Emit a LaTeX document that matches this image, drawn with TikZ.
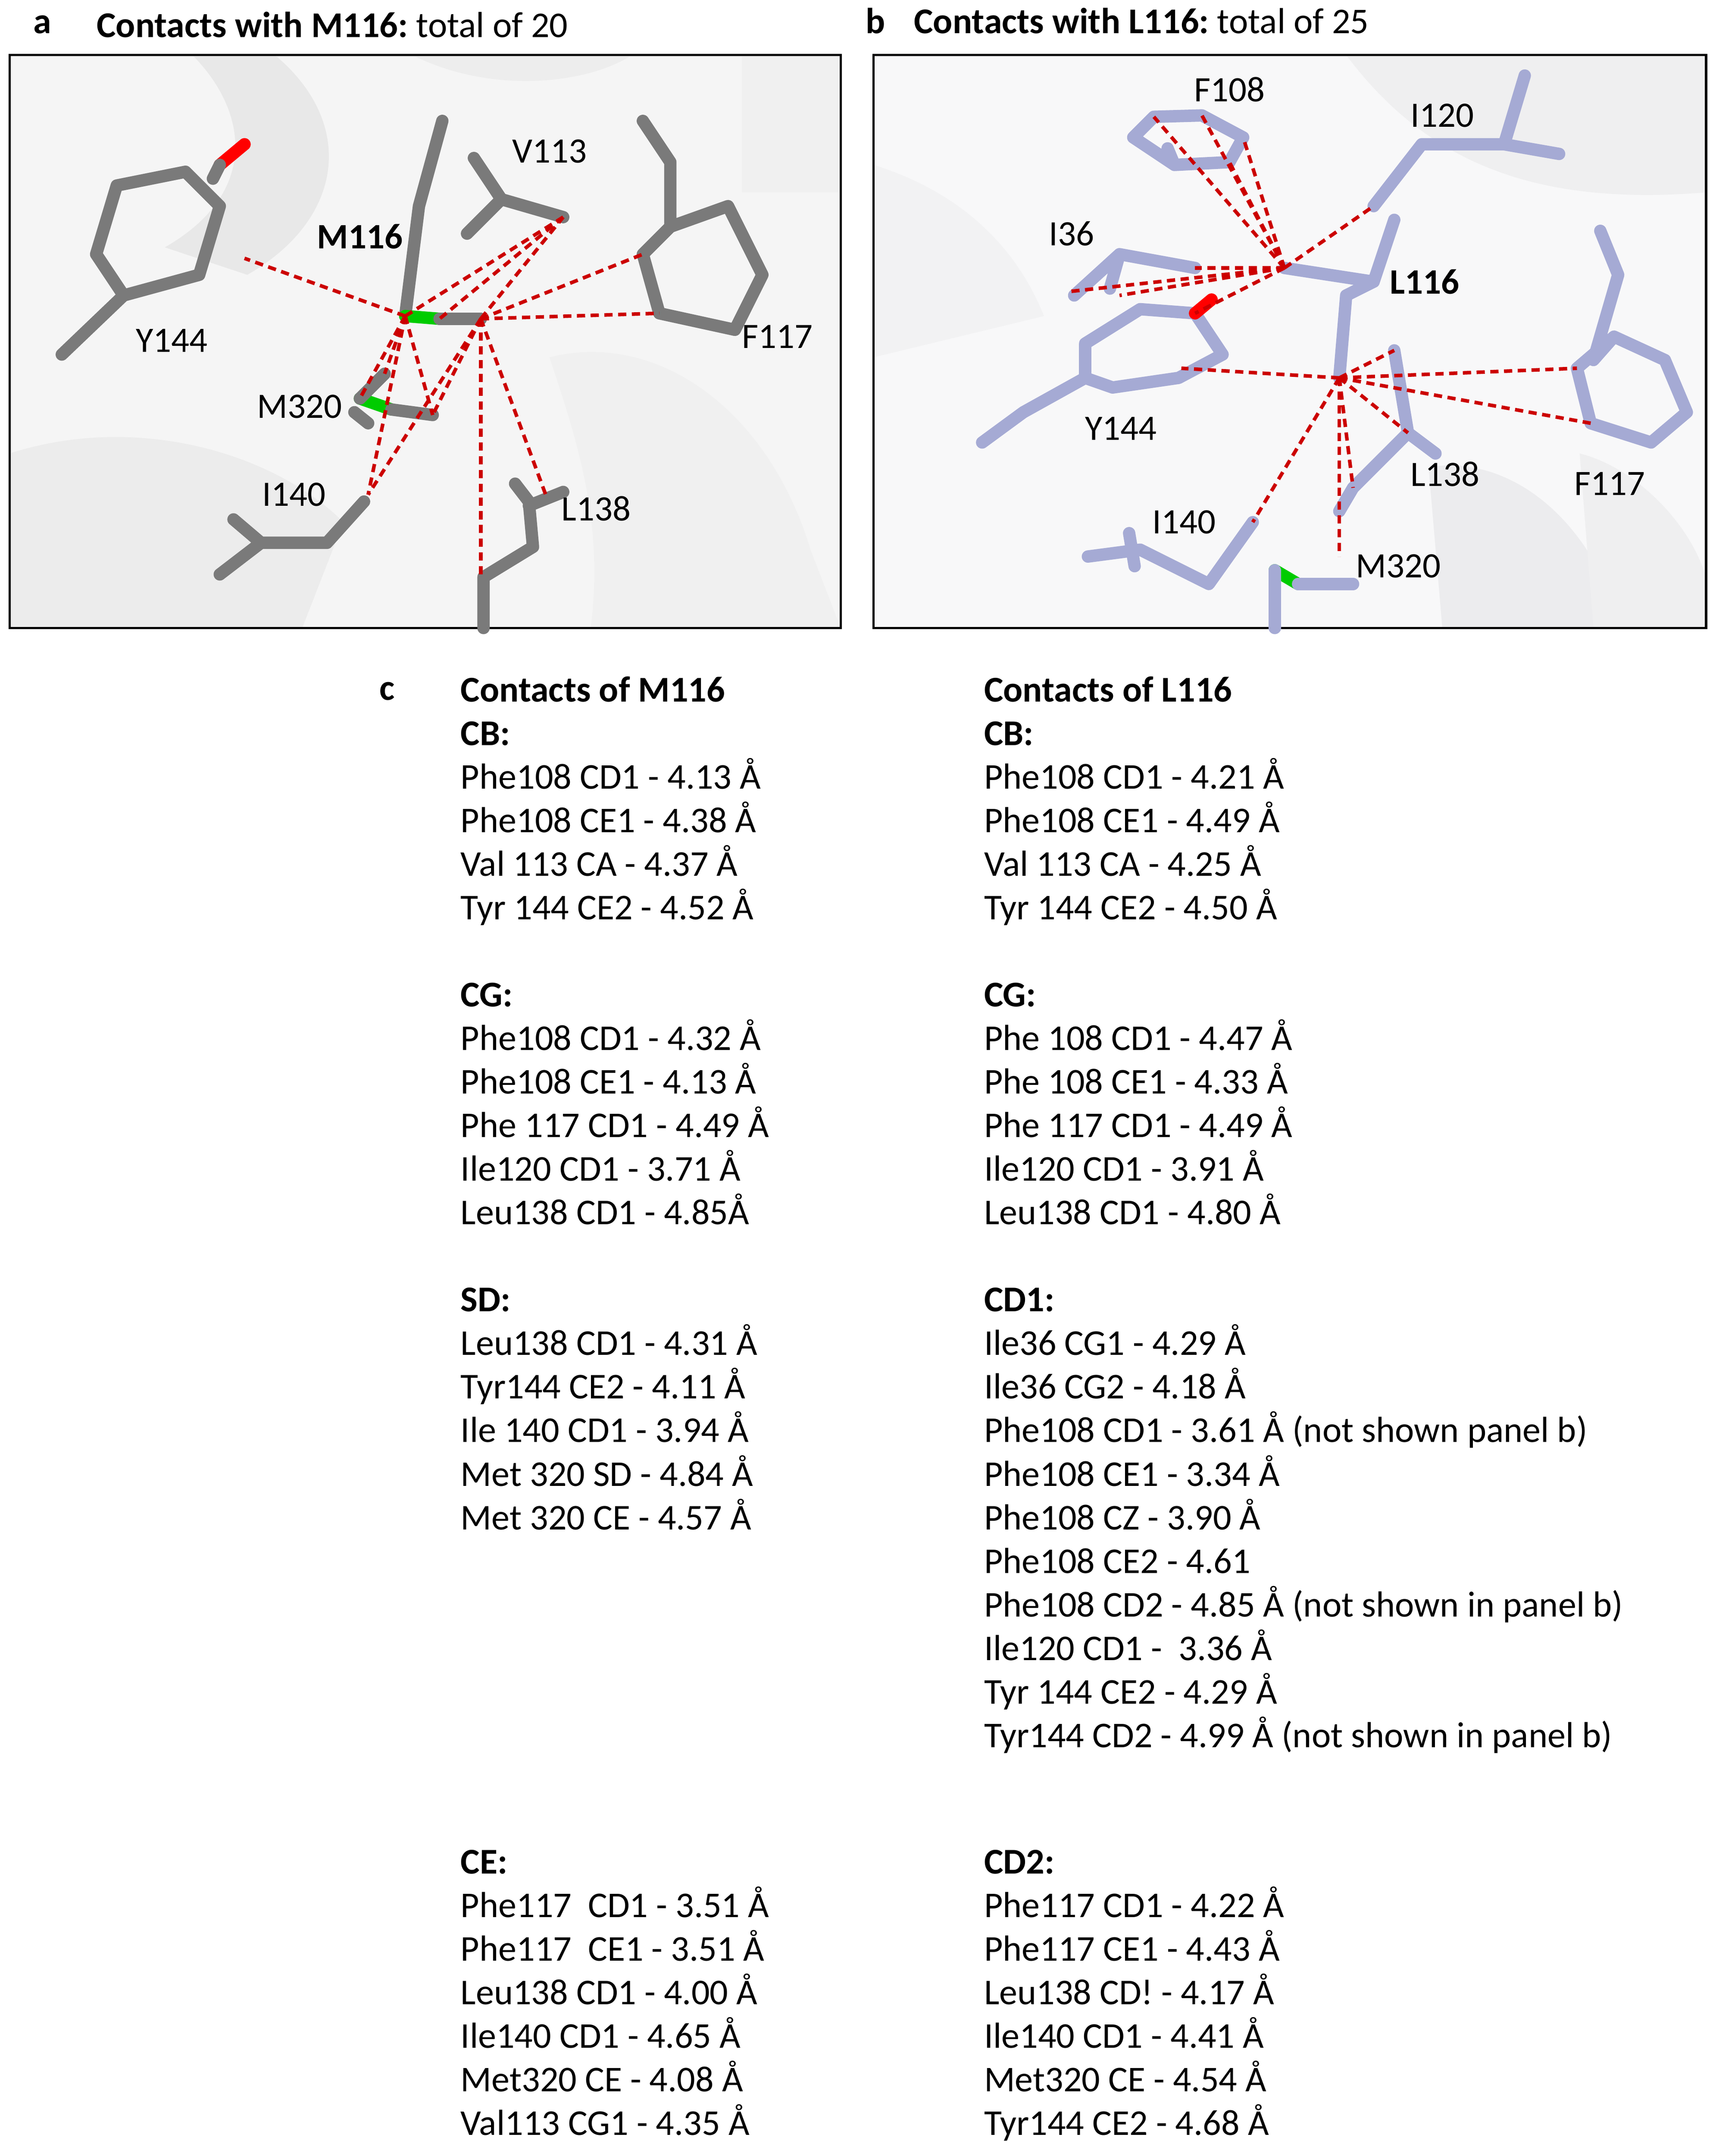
\documentclass[tikz,border=0pt]{standalone}
\usepackage{fontspec}
\setmainfont{Carlito}
\begin{document}
\begin{tikzpicture}[x=0.5pt,y=-0.5pt,
 stickA/.style={line width=4.5pt,line cap=round,line join=round,draw={rgb,255:red,122;green,122;blue,122}},
 stickB/.style={line width=4.5pt,line cap=round,line join=round,draw={rgb,255:red,165;green,170;blue,212}},
 contact/.style={red!80!black,dashed,line width=1.3pt,dash pattern=on 3pt off 2pt},
 lbl/.style={font=\fontsize{13}{15}\selectfont,inner sep=0},
 blk/.style={font=\fontsize{13.2}{15.85}\selectfont,align=left,anchor=north west,inner sep=0},
 hdr/.style={font=\fontsize{13.2}{15}\selectfont,anchor=west,inner sep=0}]
\useasboundingbox (0,0) rectangle (1249,1569);
% headers
\node[hdr,font=\fontsize{13.2}{15}\bfseries] (ha) at (24,18) {a};
\node[hdr] (ta) at (70,18) {\textbf{Contacts with M116:}\ total of 20};
\node[hdr,font=\fontsize{13.2}{15}\bfseries] (hb) at (630,15) {b};
\node[hdr] (tb) at (665,15) {\textbf{Contacts with L116:}\ total of 25};
% panel a
\begin{scope}
\clip (7,40) rectangle (612,457);
\fill[gray!8] (7,40) rectangle (612,457);
\fill[gray!18] (200,40) .. controls (260,90) and (250,160) .. (180,200) -- (120,180) .. controls (190,140) and (180,80) .. (140,40) -- cycle;
\fill[gray!15] (7,330) .. controls (100,300) and (200,330) .. (250,380) -- (220,457) -- (7,457) -- cycle;
\fill[gray!12] (400,260) .. controls (480,240) and (560,300) .. (590,400) -- (612,457) -- (430,457) .. controls (440,380) and (420,320) .. (400,260);
\fill[gray!12] (540,40) rectangle (612,140);
\fill[gray!14] (300,40) .. controls (360,70) and (430,60) .. (460,40) -- cycle;
\end{scope}
\draw[line width=0.8pt] (7,40) rectangle (612,457);
% sticks a
\draw[stickA] (45,258) -- (90,215) -- (70,185) -- (85,135) -- (135,125) -- (160,150) -- (145,200) -- (90,215);
\draw[stickA,red] (160,120) -- (178,105);
\draw[stickA] (155,130) -- (160,120);
\draw[stickA] (322,88) -- (305,150) -- (295,230);
\draw[stickA,green!80!black] (295,230) -- (320,232);
\draw[stickA] (320,232) -- (350,232);
\draw[stickA,green!80!black] (262,290) -- (285,298);
\draw[stickA] (285,298) -- (315,302) (262,290) -- (280,272) (258,300)--(268,308);
\draw[stickA] (345,115) -- (365,145) -- (410,158) (365,145) -- (340,170);
\draw[stickA] (468,88) -- (488,118) -- (488,165) -- (530,150) -- (555,200) -- (535,240) -- (480,228) -- (468,185) -- (488,165);
\draw[stickA] (160,418) -- (190,395) -- (238,395) -- (265,365) (170,378) -- (190,395);
\draw[stickA] (352,457) -- (352,420) -- (388,398) -- (385,365) -- (375,352) (385,368) -- (410,358);
% contacts a
\foreach \p in {(178,188),(410,158),(262,290),(268,360),(280,272),(315,302)} \draw[contact] (295,230) -- \p;
\foreach \p in {(410,158),(468,185),(480,228),(398,362),(350,420),(268,360),(315,302)} \draw[contact] (350,232) -- \p;
\draw[contact] (410,158) -- (320,232);
\node[lbl] (a1) at (125,248) {Y144};
\node[lbl,font=\fontsize{13}{15}\bfseries] (a2) at (262,172) {M116};
\node[lbl] (a3) at (400,110) {V113};
\node[lbl] (a4) at (566,245) {F117};
\node[lbl] (a5) at (218,296) {M320};
\node[lbl] (a6) at (214,360) {I140};
\node[lbl] (a7) at (434,370) {L138};
% panel b
\begin{scope}
\clip (636,40) rectangle (1242,457);
\fill[blue!3!gray!5] (636,40) rectangle (1242,457);
\fill[blue!5!gray!12] (980,40) .. controls (1040,120) and (1120,150) .. (1242,140) -- (1242,40) -- cycle;
\fill[blue!5!gray!14] (1040,340) .. controls (1100,330) and (1160,380) .. (1180,457) -- (1050,457) -- cycle;
\fill[blue!5!gray!10] (636,120) .. controls (700,140) and (740,180) .. (760,230) -- (636,260) -- cycle;
\fill[blue!5!gray!12] (1150,330) .. controls (1190,340) and (1230,380) .. (1242,420) -- (1242,457) -- (1160,457) -- cycle;
\end{scope}
\draw[line width=0.8pt] (636,40) rectangle (1242,457);
% sticks b
\draw[stickB] (840,85) -- (875,84) -- (905,100) -- (895,118) -- (855,120) -- (825,100) -- cycle (855,120) -- (850,108);
\draw[stickB] (1000,150) -- (1035,105) -- (1095,105) -- (1110,55) (1095,105) -- (1135,112);
\draw[stickB] (782,215) -- (815,185) -- (870,195) (815,185) -- (808,210);
\draw[stickB] (1015,160) -- (1000,205) -- (980,215) -- (975,275) (1000,205) -- (935,195);
\draw[stickB] (715,322) -- (745,300) -- (790,275) -- (790,250) -- (830,225) -- (870,228) -- (890,258) -- (858,275) -- (810,282) -- (790,275);
\draw[stickB,red] (870,228) -- (882,218);
\draw[stickB] (1015,255) -- (1025,315) -- (985,355) -- (975,372) (1025,315) -- (1045,330);
\draw[stickB] (1165,168) -- (1178,200) -- (1160,262) -- (1175,245) -- (1212,262) -- (1228,300) -- (1202,322) -- (1158,308) -- (1148,268) -- (1175,245);
\draw[stickB] (792,405) -- (830,400) -- (880,425) -- (912,380) (822,388) -- (826,412);
\draw[stickB,green!80!black] (928,415) -- (945,425);
\draw[stickB] (928,415) -- (928,457) (945,425) -- (985,425);
% contacts b
\foreach \p in {(840,85),(875,84),(905,100),(895,118),(1000,150),(870,195),(815,215),(870,228),(780,212)} \draw[contact] (935,195) -- \p;
\foreach \p in {(1148,268),(1158,308),(912,380),(975,405),(1025,315),(1015,255),(860,268),(985,355)} \draw[contact] (975,275) -- \p;
\node[lbl] (b1) at (895,65) {F108};
\node[lbl] (b2) at (1050,84) {I120};
\node[lbl] (b3) at (780,170) {I36};
\node[lbl,font=\fontsize{13}{15}\bfseries] (b4) at (1037,205) {L116};
\node[lbl] (b5) at (816,312) {Y144};
\node[lbl] (b6) at (1052,345) {L138};
\node[lbl] (b7) at (1172,352) {F117};
\node[lbl] (b8) at (862,380) {I140};
\node[lbl] (b9) at (1018,412) {M320};
% panel c
\node[hdr,font=\fontsize{13.2}{15}\bfseries] (hc) at (276,503) {c};
\node[blk] (c1) at (335,492) {\textbf{Contacts of M116}\\\textbf{CB:}\\Phe108 CD1 - 4.13 Å\\Phe108 CE1 - 4.38 Å\\Val 113 CA - 4.37 Å\\Tyr 144 CE2 - 4.52 Å\\[15.85pt]\textbf{CG:}\\Phe108 CD1 - 4.32 Å\\Phe108 CE1 - 4.13 Å\\Phe 117 CD1 - 4.49 Å\\Ile120 CD1 - 3.71 Å\\Leu138 CD1 - 4.85Å\\[15.85pt]\textbf{SD:}\\Leu138 CD1 - 4.31 Å\\Tyr144 CE2 - 4.11 Å\\Ile 140 CD1 - 3.94 Å\\Met 320 SD - 4.84 Å\\Met 320 CE - 4.57 Å};
\node[blk] (c2) at (716,492) {\textbf{Contacts of L116}\\\textbf{CB:}\\Phe108 CD1 - 4.21 Å\\Phe108 CE1 - 4.49 Å\\Val 113 CA - 4.25 Å\\Tyr 144 CE2 - 4.50 Å\\[15.85pt]\textbf{CG:}\\Phe 108 CD1 - 4.47 Å\\Phe 108 CE1 - 4.33 Å\\Phe 117 CD1 - 4.49 Å\\Ile120 CD1 - 3.91 Å\\Leu138 CD1 - 4.80 Å\\[15.85pt]\textbf{CD1:}\\Ile36 CG1 - 4.29 Å\\Ile36 CG2 - 4.18 Å\\Phe108 CD1 - 3.61 Å (not shown panel b)\\Phe108 CE1 - 3.34 Å\\Phe108 CZ - 3.90 Å\\Phe108 CE2 - 4.61\\Phe108 CD2 - 4.85 Å (not shown in panel b)\\Ile120 CD1 -\ \ 3.36 Å\\Tyr 144 CE2 - 4.29 Å\\Tyr144 CD2 - 4.99 Å (not shown in panel b)};
\node[blk] (c3) at (335,1346) {\textbf{CE:}\\Phe117\ \ CD1 - 3.51 Å\\Phe117\ \ CE1 - 3.51 Å\\Leu138 CD1 - 4.00 Å\\Ile140 CD1 - 4.65 Å\\Met320 CE - 4.08 Å\\Val113 CG1 - 4.35 Å};
\node[blk] (c4) at (716,1346) {\textbf{CD2:}\\Phe117 CD1 - 4.22 Å\\Phe117 CE1 - 4.43 Å\\Leu138 CD! - 4.17 Å\\Ile140 CD1 - 4.41 Å\\Met320 CE - 4.54 Å\\Tyr144 CE2 - 4.68 Å};
\end{tikzpicture}
\end{document}
